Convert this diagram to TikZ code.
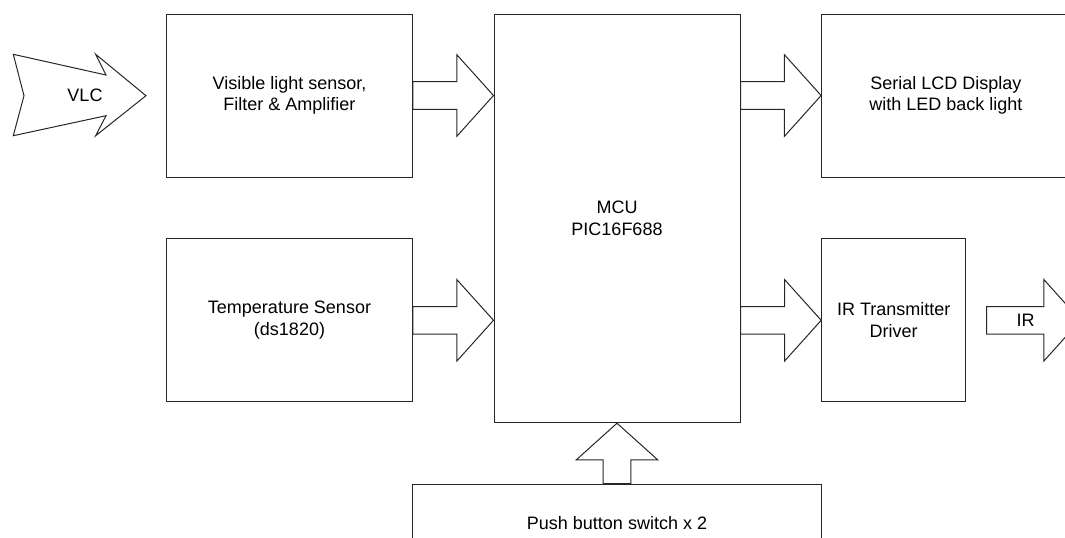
\documentclass[tikz,border=0pt]{standalone}
\usepackage{fontspec}
\setmainfont{Liberation Sans}
\usepackage{tikz}
\usetikzlibrary{calc,positioning}

% hollow block arrow from #1 to #2
\newcommand{\blockarrow}[2]{%
  \coordinate (hb) at ($(#2)!18.35pt!(#1)$);
  \draw[bigarrow] ($(#1)!6.9pt!90:(#2)$) -- ($(hb)!6.9pt!90:(#2)$) -- ($(hb)!20.4pt!90:(#2)$) -- (#2)
    -- ($(hb)!20.4pt!-90:(#2)$) -- ($(hb)!6.9pt!-90:(#2)$) -- ($(#1)!6.9pt!-90:(#2)$) -- cycle;
}

\begin{document}
\begin{tikzpicture}[
    x=0.5pt, y=-0.5pt,
    line width=0.5pt,
    block/.style={draw=black!85, align=center, inner sep=0pt, font=\fontsize{9}{10.8}\selectfont},
    bigarrow/.style={draw=black!85, line join=miter},
    lbl/.style={font=\fontsize{9}{10.8}\selectfont}
]
\useasboundingbox (0,0) rectangle (1065,537);
\clip (0,0) rectangle (1065,537);

% blocks
\node[block, minimum width=122.8pt, minimum height=81.5pt] (vls) at (289.5,95.5) {Visible light sensor,\\Filter \& Amplifier};
\node[block, minimum width=122.8pt, minimum height=81.5pt] (temp) at (289.5,320.3) {Temperature Sensor\\(ds1820)};
\node[block, minimum width=123pt, minimum height=204.35pt] (mcu) at (617,218.35) {MCU\\PIC16F688};
\node[block, minimum width=124.2pt, minimum height=81.5pt] (lcd) at (945.8,95.5) {Serial LCD Display\\with LED back light};
\node[block, minimum width=72pt, minimum height=81.35pt] (irdrv) at (893.7,320.3) {IR Transmitter\\Driver};
\node[block, minimum width=204.5pt, minimum height=39.3pt] (push) at (617,523.3) {Push button switch x 2};

% incoming light
\draw[bigarrow] (13.3,54.3) -- (106,75) -- (95.7,54.3) -- (146,95.7) -- (95.7,135.7)
    -- (106,115.7) -- (13.3,135.7) -- (24,95.7) -- cycle;
\node[lbl] (vlc) at (85,95.5) {VLC};

% block arrows
\coordinate (a1) at (mcu.west |- vls.east);
\blockarrow{vls.east}{a1}
\coordinate (a2) at (mcu.west |- temp.east);
\blockarrow{temp.east}{a2}
\coordinate (a3) at (mcu.east |- lcd.west);
\blockarrow{a3}{lcd.west}
\coordinate (a4) at (mcu.east |- irdrv.west);
\blockarrow{a4}{irdrv.west}
\coordinate (a5) at (mcu.south |- push.north);
\blockarrow{a5}{mcu.south}

% IR output
\coordinate (ir0) at ($(irdrv.east)+(20.3,0)$);
\coordinate (ir1) at ($(irdrv.east)+(114.3,0)$);
\blockarrow{ir0}{ir1}
\node[lbl] (irlbl) at ($(irdrv.east)+(59.3,0)$) {IR};
\end{tikzpicture}
\end{document}
